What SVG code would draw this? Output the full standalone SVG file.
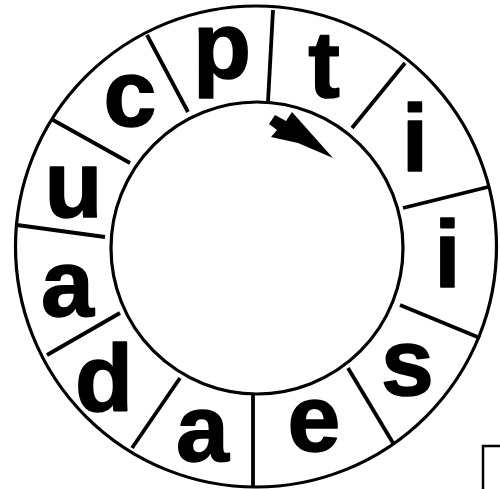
<svg xmlns="http://www.w3.org/2000/svg" width="500" height="489" viewBox="0 0 500 489">
<style>
.ring{fill:none;stroke:#000;stroke-width:3.2}
.spoke{stroke:#000;stroke-width:3.8;stroke-linecap:butt}
.lt{font-family:"Liberation Sans",Arial,sans-serif;font-weight:bold;font-size:95px;fill:#000;stroke:#000;stroke-width:1.6;stroke-linejoin:round;text-anchor:middle}
</style>
<rect width="500" height="489" fill="#fff"/>
<g id="rings">
<circle class="ring" cx="256" cy="246.5" r="240.5"/>
<circle class="ring" cx="257" cy="248" r="146"/>
</g>
<g id="connectors">
<line class="spoke" x1="273" y1="10" x2="268" y2="102"/>
<line class="spoke" x1="405" y1="63" x2="352" y2="128"/>
<line class="spoke" x1="488" y1="187" x2="403" y2="208"/>
<line class="spoke" x1="480" y1="338" x2="400" y2="305"/>
<line class="spoke" x1="393" y1="443" x2="348" y2="368"/>
<line class="spoke" x1="253" y1="487" x2="253" y2="395"/>
<line class="spoke" x1="132" y1="448" x2="180" y2="378"/>
<line class="spoke" x1="47" y1="355" x2="120" y2="313"/>
<line class="spoke" x1="17" y1="225" x2="105" y2="237"/>
<line class="spoke" x1="53" y1="120" x2="130" y2="163"/>
<line class="spoke" x1="147" y1="35" x2="188" y2="112"/>
</g>
<g id="letter-c"><text class="lt" x="130" y="126">c</text></g>
<g id="letter-p"><text class="lt" x="222" y="78">p</text></g>
<g id="letter-t"><text class="lt" x="324" y="97">t</text></g>
<g id="letter-i1"><text class="lt" x="415" y="171">i</text></g>
<g id="letter-i2"><text class="lt" x="447.5" y="287">i</text></g>
<g id="letter-s"><text class="lt" x="407.5" y="395">s</text></g>
<g id="letter-e"><text class="lt" x="314" y="451">e</text></g>
<g id="letter-a1"><text class="lt" x="202.5" y="461">a</text></g>
<g id="letter-d"><text class="lt" x="104" y="411">d</text></g>
<g id="letter-a2"><text class="lt" x="67.5" y="316">a</text></g>
<g id="letter-u"><text class="lt" x="73.5" y="217">u</text></g>
<g id="arrow">
<polygon points="333,158 292,112 286,121 275,115 269,124 277,130 271,137 298,143" fill="#000"/>
</g>
<g id="corner">
<polyline points="483,489 483,446 500,446" fill="none" stroke="#000" stroke-width="2.5"/>
</g>
</svg>
